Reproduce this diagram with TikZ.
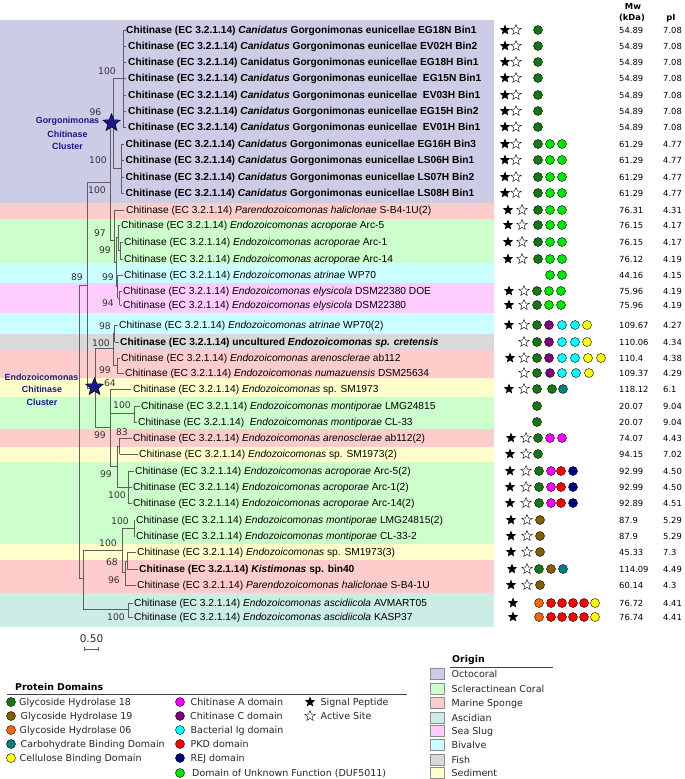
\documentclass[tikz,border=0pt]{standalone}
\usepackage{fontspec}
\setmainfont{Liberation Sans}
\newfontfamily\dv{DejaVu Sans}
\usetikzlibrary{shapes.geometric}
\definecolor{bOcto}{RGB}{204,204,230}
\definecolor{bScle}{RGB}{204,255,204}
\definecolor{bSpon}{RGB}{255,204,204}
\definecolor{bAsci}{RGB}{204,236,230}
\definecolor{bSlug}{RGB}{255,204,255}
\definecolor{bBiva}{RGB}{204,255,255}
\definecolor{bFish}{RGB}{217,217,217}
\definecolor{bSedi}{RGB}{255,255,204}
\definecolor{cGH18}{RGB}{20,120,20}
\definecolor{cGH19}{RGB}{128,96,0}
\definecolor{cGH06}{RGB}{255,102,0}
\definecolor{cCBD}{RGB}{0,128,128}
\definecolor{cCel}{RGB}{255,255,0}
\definecolor{cChA}{RGB}{255,0,255}
\definecolor{cChC}{RGB}{128,0,128}
\definecolor{cIg}{RGB}{0,255,255}
\definecolor{cPKD}{RGB}{255,0,0}
\definecolor{cREJ}{RGB}{0,0,128}
\definecolor{cDUF}{RGB}{0,230,0}
\definecolor{clab}{RGB}{25,25,140}
\definecolor{treec}{RGB}{95,95,95}
\newcommand\ch{Chitinase (EC 3.2.1.14) }
\newcommand\HB[3]{\draw[br] (#1,#3) -- (#2,#3);}
\newcommand\VB[3]{\draw[br] (#1,#2) -- (#1,#3);}
\newcommand\SP[2]{\node[sstar] at (#1,#2){};}
\newcommand\AS[2]{\node[astar] at (#1,#2){};}
\newcommand\DM[3]{\node[dom,fill=#3] at (#1,#2){};}
\newcommand\LF[6]{\node[leaf] (#1) at (#3,#2) {#4};\node[num] at (619,#2) {#5};\node[num] at (663,#2) {#6};}
\newcommand\BT[3]{\node[boot] at (#1,#2) {#3};}
\begin{document}
\begin{tikzpicture}[x=1pt,y=-1pt,
  leaf/.style={anchor=base west,yshift=-3.6pt,inner sep=0pt,font=\fontsize{10.2}{12}\selectfont},
  num/.style={anchor=base west,yshift=-3.1pt,inner sep=0pt,font=\dv\fontsize{8.4}{10}\selectfont},
  boot/.style={inner sep=0pt,text=black!80,font=\dv\fontsize{9.2}{10}\selectfont},
  br/.style={draw=treec,line width=0.85pt},
  dom/.style={circle,draw=black,line width=0.4pt,minimum size=9pt,inner sep=0pt},
  sstar/.style={star,star points=5,star point ratio=2.3,fill=black,minimum size=11pt,inner sep=0pt},
  astar/.style={star,star points=5,star point ratio=2.3,draw=black,fill=white,line width=0.4pt,minimum size=11pt,inner sep=0pt},
  bigstar/.style={star,star points=5,star point ratio=2.3,draw=black,fill=clab,line width=0.5pt,minimum size=18.5pt,inner sep=0pt},
  clus/.style={inner sep=0pt,text=clab,font=\bfseries\fontsize{8.9}{10}\selectfont},
  leg/.style={anchor=base west,yshift=-3.4pt,inner sep=0pt,font=\dv\fontsize{9.5}{11}\selectfont,text=black!85},
  sw/.style={draw=black!45,line width=0.4pt}]
\useasboundingbox (0,0) rectangle (685,779);
\fill[white] (0,0) rectangle (685,779);
% background bands
\fill[bOcto] (0,20) rectangle (494,203);
\fill[bSpon] (0,203) rectangle (494,219);
\fill[bScle] (0,219) rectangle (494,263);
\fill[bBiva] (0,263) rectangle (494,283);
\fill[bSlug] (0,283) rectangle (494,313);
\fill[bBiva] (0,313) rectangle (494,334);
\fill[bFish] (0,334) rectangle (494,350);
\fill[bSpon] (0,350) rectangle (494,378);
\fill[bSedi] (0,378) rectangle (494,397);
\fill[bScle] (0,397) rectangle (494,429);
\fill[bSpon] (0,429) rectangle (494,447);
\fill[bSedi] (0,447) rectangle (494,462);
\fill[bScle] (0,462) rectangle (494,544);
\fill[bSedi] (0,544) rectangle (494,560);
\fill[bSpon] (0,560) rectangle (494,593);
\fill[bAsci] (0,593) rectangle (494,627);
% header
\node[inner sep=0pt,font=\dv\bfseries\fontsize{8.4}{10}\selectfont] (hmw) at (633,6) {Mw};
\node[inner sep=0pt,font=\dv\bfseries\fontsize{8.4}{10}\selectfont] (hkda) at (632,18) {(kDa)};
\node[inner sep=0pt,font=\dv\bfseries\fontsize{8.4}{10}\selectfont] (hpi) at (671,18) {pI};
% leaves
\LF{r1}{30}{126}{\textbf{\ch\textit{Canidatus} Gorgonimonas eunicellae EG18N Bin1}}{54.89}{7.08}
\LF{r2}{46}{128}{\textbf{\ch\textit{Canidatus} Gorgonimonas eunicellae EV02H Bin2}}{54.89}{7.08}
\LF{r3}{62}{128}{\textbf{\ch Canidatus Gorgonimonas eunicellae EG18H Bin1}}{54.89}{7.08}
\LF{r4}{78}{128}{\textbf{\ch\textit{Canidatus} Gorgonimonas eunicellae\ \ EG15N Bin1}}{54.89}{7.08}
\LF{r5}{95}{128}{\textbf{\ch\textit{Canidatus} Gorgonimonas eunicellae\ \ EV03H Bin1}}{54.89}{7.08}
\LF{r6}{111}{128}{\textbf{\ch\textit{Canidatus} Gorgonimonas eunicellae EG15H Bin2}}{54.89}{7.08}
\LF{r7}{127}{128}{\textbf{\ch\textit{Canidatus} Gorgonimonas eunicellae\ \ EV01H Bin1}}{54.89}{7.08}
\LF{r8}{144}{125.5}{\textbf{\ch\textit{Canidatus} Gorgonimonas eunicellae EG16H Bin3}}{61.29}{4.77}
\LF{r9}{160}{125.5}{\textbf{\ch\textit{Canidatus} Gorgonimonas eunicellae LS06H Bin1}}{61.29}{4.77}
\LF{r10}{177}{125.5}{\textbf{\ch\textit{Canidatus} Gorgonimonas eunicellae LS07H Bin2}}{61.29}{4.77}
\LF{r11}{193}{125.5}{\textbf{\ch\textit{Canidatus} Gorgonimonas eunicellae LS08H Bin1}}{61.29}{4.77}
\LF{r12}{210}{126}{\ch\textit{Parendozoicomonas haliclonae} S-B4-1U(2)}{76.31}{4.31}
\LF{r13}{225}{121}{\ch\textit{Endozoicomonas acroporae} Arc-5}{76.15}{4.17}
\LF{r14}{242}{124}{\ch\textit{Endozoicomonas acroporae} Arc-1}{76.15}{4.17}
\LF{r15}{259}{124}{\ch\textit{Endozoicomonas acroporae} Arc-14}{76.12}{4.19}
\LF{r16}{275}{124}{\ch\textit{Endozoicomonas atrinae} WP70}{44.16}{4.15}
\LF{r17}{291}{123}{\ch\textit{Endozoicomonas elysicola} DSM22380 DOE}{75.96}{4.19}
\LF{r18}{305}{123}{\ch\textit{Endozoicomonas elysicola} DSM22380}{75.96}{4.19}
\LF{r19}{325}{119}{\ch\textit{Endozoicomonas atrinae} WP70(2)}{109.67}{4.27}
\LF{r20}{342}{120}{\textbf{\ch uncultured \textit{Endozoicomonas sp. cretensis}}}{110.06}{4.34}
\LF{r21}{358}{121}{\ch\textit{Endozoicomonas arenosclerae} ab112}{110.4}{4.38}
\LF{r22}{373}{125}{\ch\textit{Endozoicomonas numazuensis} DSM25634}{109.37}{4.29}
\LF{r23}{389}{133}{\ch\textit{Endozoicomonas} sp. SM1973}{118.12}{6.1}
\LF{r24}{406}{141}{\ch\textit{Endozoicomonas montiporae} LMG24815}{20.07}{9.04}
\LF{r25}{422}{138}{\ch\ \textit{Endozoicomonas montiporae} CL-33}{20.07}{9.04}
\LF{r26}{438}{133}{\ch\textit{Endozoicomonas arenosclerae} ab112(2)}{74.07}{4.43}
\LF{r27}{454}{139}{\ch\textit{Endozoicomonas} sp. SM1973(2)}{94.15}{7.02}
\LF{r28}{471}{135}{\ch\textit{Endozoicomonas acroporae} Arc-5(2)}{92.99}{4.50}
\LF{r29}{487}{133}{\ch\textit{Endozoicomonas acroporae} Arc-1(2)}{92.99}{4.50}
\LF{r30}{503}{133}{\ch\textit{Endozoicomonas acroporae} Arc-14(2)}{92.89}{4.51}
\LF{r31}{520}{136}{\ch\textit{Endozoicomonas montiporae} LMG24815(2)}{87.9}{5.29}
\LF{r32}{536}{136}{\ch\textit{Endozoicomonas montiporae} CL-33-2}{87.9}{5.29}
\LF{r33}{552}{137}{\ch\textit{Endozoicomonas} sp. SM1973(3)}{45.33}{7.3}
\LF{r34}{569}{139}{\textbf{\ch\textit{Kistimonas} sp. bin40}}{114.09}{4.49}
\LF{r35}{585}{137}{\ch\textit{Parendozoicomonas haliclonae} S-B4-1U}{60.14}{4.3}
\LF{r36}{603}{134}{\ch\textit{Endozoicomonas ascidiicola} AVMART05}{76.72}{4.41}
\LF{r37}{617}{134}{\ch\textit{Endozoicomonas ascidiicola} KASP37}{76.74}{4.41}
% tree
\VB{123}{30}{127}
\foreach \y in {30,46,62,78,95,111,127} {\HB{123}{125.5}{\y}}
\VB{121}{144}{193}
\foreach \y in {144,160,177,193} {\HB{121}{124}{\y}}
\VB{113}{78}{168} \HB{113}{123}{78} \HB{113}{121}{168}
\VB{110}{123}{240} \HB{110}{113}{123} \HB{87}{110}{182}
\VB{114}{210}{262} \HB{110}{114}{240} \HB{114}{124}{210}
\VB{116}{237}{286} \HB{114}{116}{262}
\VB{118}{225}{250} \HB{116}{118}{237} \HB{118}{120}{225}
\VB{120}{242}{259} \HB{118}{120}{250} \HB{120}{122.5}{242} \HB{120}{122.5}{259}
\VB{117.5}{275}{298} \HB{116}{117.5}{286} \HB{117.5}{122.5}{275}
\VB{119.5}{291}{305} \HB{117.5}{119.5}{298} \HB{119.5}{121.5}{291} \HB{119.5}{121.5}{305}
\VB{87}{182}{388} \HB{79}{87}{285}
\VB{79}{285}{578}
\VB{95}{348}{427} \HB{87}{95}{388}
\VB{113}{333}{365} \HB{95}{113}{348}
\VB{114.5}{325}{342} \HB{113}{114.5}{333} \HB{114.5}{117.5}{325} \HB{114.5}{118.5}{342}
\VB{117}{358}{373} \HB{113}{117}{365} \HB{117}{119.5}{358} \HB{117}{123.5}{373}
\VB{110}{389}{466} \HB{95}{110}{427} \HB{110}{131}{389}
\VB{134}{406}{422} \HB{110}{134}{413} \HB{134}{139.5}{406} \HB{134}{136.5}{422}
\VB{117}{446}{487} \HB{110}{117}{466}
\VB{119.5}{438}{454} \HB{117}{119.5}{446} \HB{119.5}{131.5}{438} \HB{119.5}{137.5}{454}
\VB{128}{471}{503} \HB{117}{128}{487} \HB{128}{133.5}{471} \HB{128}{131.5}{487} \HB{128}{131.5}{503}
\VB{83}{550}{609} \HB{79}{83}{578}
\VB{122}{528}{572} \HB{83}{122}{550}
\VB{134}{520}{536} \HB{122}{134}{528} \HB{134}{134.5}{520} \HB{134}{134.5}{536}
\VB{125}{561}{585} \HB{122}{125}{572}
\VB{127}{552}{569} \HB{125}{127}{561} \HB{127}{135.5}{552} \HB{127}{137.5}{569}
\HB{125}{135.5}{585}
\VB{128}{603}{617} \HB{83}{128}{609} \HB{128}{132.5}{603} \HB{128}{132.5}{617}
% bootstrap values
\BT{107}{71}{100} \BT{95.5}{112}{96} \BT{98}{160}{100} \BT{97}{190}{100}
\BT{100}{233}{97} \BT{105}{250}{99} \BT{77}{277}{89} \BT{108}{277}{99}
\BT{108}{303}{94} \BT{105}{326}{98} \BT{101}{343}{100} \BT{105}{370}{99}
\BT{110}{383}{64} \BT{122}{405}{100} \BT{100}{435}{99} \BT{122}{432}{83}
\BT{106}{474}{99} \BT{117}{495}{100} \BT{120}{521}{100} \BT{108}{543}{100}
\BT{112}{562}{68} \BT{114}{580}{96} \BT{116}{617}{100}
% cluster stars and labels
\node[bigstar] (gstar) at (111.5,123) {};
\node[bigstar] (estar) at (94.5,387) {};
\node[clus] at (67.5,121) {Gorgonimonas};
\node[clus] at (67.5,134) {Chitinase};
\node[clus] at (67.5,146) {Cluster};
\node[clus] at (41.5,377) {Endozoicomonas};
\node[clus] at (42,389.5) {Chitinase};
\node[clus] at (42,402) {Cluster};
% domain symbols
\foreach \y in {30,46,62,78,95,111,127} {\SP{505}{\y}\AS{516}{\y}\DM{538}{\y}{cGH18}}
\foreach \y in {144,160,177,193} {\SP{505}{\y}\AS{516}{\y}\DM{538}{\y}{cGH18}\DM{550}{\y}{cDUF}\DM{562}{\y}{cDUF}}
\foreach \y in {210,225,242,259} {\SP{508}{\y}\AS{522}{\y}\DM{538}{\y}{cGH18}\DM{550}{\y}{cDUF}\DM{562}{\y}{cDUF}}
\DM{550}{275}{cDUF}\DM{562}{275}{cDUF}
\foreach \y in {291,305} {\SP{509}{\y}\AS{524}{\y}\DM{537}{\y}{cGH18}\DM{549}{\y}{cDUF}\DM{561}{\y}{cDUF}}
\SP{509}{325}\AS{524}{325}\DM{537}{325}{cGH18}\DM{549}{325}{cChC}\DM{562}{325}{cIg}\DM{575}{325}{cIg}\DM{587}{325}{cCel}
\AS{524}{342}\DM{537}{342}{cGH18}\DM{549}{342}{cChC}\DM{562}{342}{cIg}\DM{575}{342}{cIg}\DM{587}{342}{cCel}
\SP{510}{358}\AS{524}{358}\DM{537}{358}{cGH18}\DM{549}{358}{cChC}\DM{562}{358}{cIg}\DM{575}{358}{cIg}\DM{588}{358}{cCel}\DM{601}{358}{cCel}
\AS{524}{373}\DM{537}{373}{cGH18}\DM{550}{373}{cChC}\DM{562}{373}{cIg}\DM{576}{373}{cIg}\DM{589}{373}{cCel}
\SP{509}{389}\AS{524}{389}\DM{537}{389}{cGH18}\DM{552}{389}{cGH18}\DM{563}{389}{cCBD}
\DM{537}{406}{cGH18}\DM{537}{422}{cGH18}
\SP{511}{438}\AS{526}{438}\DM{538}{438}{cGH18}\DM{550}{438}{cChA}\DM{562}{438}{cChA}
\SP{510}{454}\AS{526}{454}\DM{538}{454}{cGH18}
\foreach \y in {471,487,503} {\SP{510}{\y}\AS{526}{\y}\DM{539}{\y}{cGH18}\DM{551}{\y}{cChA}\DM{561}{\y}{cPKD}\DM{573}{\y}{cREJ}}
\foreach \y in {520,536,552,585} {\SP{511}{\y}\AS{527}{\y}\DM{540}{\y}{cGH19}}
\SP{512}{569}\AS{527}{569}\DM{539}{569}{cGH18}\DM{551}{569}{cGH19}\DM{563}{569}{cCBD}
\foreach \y in {603,617} {\SP{513}{\y}\DM{539}{\y}{cGH06}\DM{551}{\y}{cPKD}\DM{562}{\y}{cPKD}\DM{573}{\y}{cPKD}\DM{584}{\y}{cPKD}\DM{595}{\y}{cCel}}
% scale bar
\node[inner sep=0pt,font=\dv\fontsize{10.5}{12}\selectfont,text=black!85] (scl) at (91.5,639) {0.50};
\draw[treec,line width=0.7pt] (84,649) -- (98,649) (84,647) -- (84,651) (98,647) -- (98,651);
% protein domains legend
\node[anchor=base west,inner sep=0pt,font=\dv\bfseries\fontsize{9.4}{11}\selectfont] (pdt) at (15,690.5) {Protein Domains};
\draw[black!75,line width=0.8pt] (7,694) -- (407,694);
\DM{11}{702}{cGH18} \node[leg] at (19,702) {Glycoside Hydrolase 18};
\DM{11}{716}{cGH19} \node[leg] at (20.5,716) {Glycoside Hydrolase 19};
\DM{11}{730}{cGH06} \node[leg] at (19.5,730) {Glycoside Hydrolase 06};
\DM{11}{744}{cCBD} \node[leg] at (20.5,744) {Carbohydrate Binding Domain};
\DM{11}{758}{cCel} \node[leg] at (19.5,758) {Cellulose Binding Domain};
\DM{180}{702}{cChA} \node[leg] at (190.5,702) {Chitinase A domain};
\DM{180}{716}{cChC} \node[leg] at (190,716) {Chitinase C domain};
\DM{180}{730}{cIg} \node[leg] at (190.5,730) {Bacterial Ig domain};
\DM{180}{744}{cPKD} \node[leg] at (190.5,744) {PKD domain};
\DM{180}{758}{cREJ} \node[leg] at (190.5,758) {REJ domain};
\DM{180}{773}{cDUF} \node[leg] at (192,773) {Domain of Unknown Function (DUF5011)};
\SP{310}{702} \node[leg] at (320.5,702) {Signal Peptide};
\AS{310}{716} \node[leg] at (320.5,716) {Active Site};
% origin legend
\node[anchor=base west,inner sep=0pt,font=\dv\bfseries\fontsize{9.4}{11}\selectfont] (ort) at (452,662.5) {Origin};
\draw[black!75,line width=0.8pt] (450,667) -- (553,667);
\foreach \y/\c/\t in {674/bOcto/Octocoral,689/bScle/Scleractinean Coral,703/bSpon/Marine Sponge,718/bAsci/Ascidian,731/bSlug/Sea Slug,745/bBiva/Bivalve,760/bFish/Fish,773/bSedi/Sediment}
  {\filldraw[sw,fill=\c] (430,\y-5.5) rectangle (444,\y+5.5); \node[leg] at (451.5,\y) {\t};}
\end{tikzpicture}
\end{document}
